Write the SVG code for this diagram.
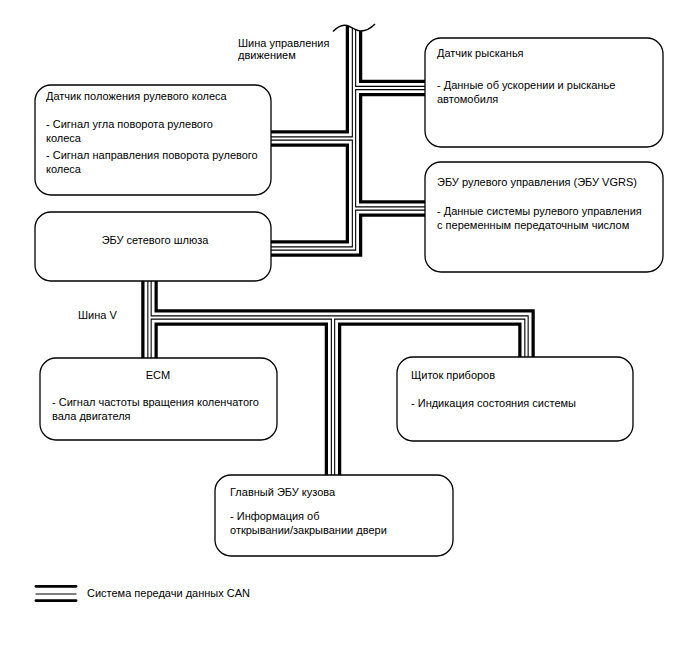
<svg xmlns="http://www.w3.org/2000/svg" xmlns:xlink="http://www.w3.org/1999/xlink" width="688" height="658" viewBox="0 0 688 658">
<style>
.box{fill:#fff;stroke:#000;stroke-width:1.3}
text{font-family:"Liberation Sans",Arial,sans-serif;font-size:11px;fill:#000}
.mid{text-anchor:middle}
</style>
<defs>
<g id="bus">
<path d="M354,20 V248.5 H271"/>
<path d="M354,138.5 H271"/>
<path d="M354,88 H426"/>
<path d="M354,208.5 H426"/>
<path d="M149.5,280 V359"/>
<path d="M149.5,317.5 H526.5 V358"/>
<path d="M333,317.5 V476"/>
</g>
</defs>
<rect width="688" height="658" fill="#fff"/>
<g id="connectors" fill="none" stroke-linejoin="miter">
<use xlink:href="#bus" stroke="#000" stroke-width="16.5"/>
<use xlink:href="#bus" stroke="#fff" stroke-width="10"/>
<use xlink:href="#bus" stroke="#000" stroke-width="4.4"/>
<use xlink:href="#bus" stroke="#fff" stroke-width="2.2"/>
<path d="M333,31.5 C338,26 343,24.5 347,25.5 C352,27 356,31 361,31 C366,31 371,28 375,24 L376,8 L332,8 Z" fill="#fff" stroke="none"/>
<path d="M333,31.5 C338,26 343,24.5 347,25.5 C352,27 356,31 361,31 C366,31 371,28 375,24" fill="none" stroke="#000" stroke-width="1.4"/>
</g>
<g id="n-steering-sensor">
<rect class="box" x="35" y="85" width="236" height="110" rx="16"/>
<text x="46" y="100">Датчик положения рулевого колеса</text>
<text x="46" y="128">- Сигнал угла поворота рулевого</text>
<text x="46" y="141.5">колеса</text>
<text x="46" y="159">- Сигнал направления поворота рулевого</text>
<text x="46" y="172.5">колеса</text>
</g>
<g id="n-yaw-sensor">
<rect class="box" x="425" y="38" width="238" height="109" rx="16"/>
<text x="437" y="57">Датчик рысканья</text>
<text x="437" y="89">- Данные об ускорении и рысканье</text>
<text x="437" y="102.5">автомобиля</text>
</g>
<g id="n-vgrs">
<rect class="box" x="425" y="162" width="238" height="110" rx="16"/>
<text x="437" y="185.5">ЭБУ рулевого управления (ЭБУ VGRS)</text>
<text x="437" y="215">- Данные системы рулевого управления</text>
<text x="437" y="228.5">с переменным передаточным числом</text>
</g>
<g id="n-gateway">
<rect class="box" x="35" y="212" width="236" height="69" rx="16"/>
<text class="mid" x="155" y="244">ЭБУ сетевого шлюза</text>
</g>
<g id="n-ecm">
<rect class="box" x="40" y="358" width="237" height="82" rx="16"/>
<text class="mid" x="158" y="379">ECM</text>
<text x="52" y="406">- Сигнал частоты вращения коленчатого</text>
<text x="52" y="420">вала двигателя</text>
</g>
<g id="n-meter">
<rect class="box" x="397" y="357" width="236" height="84" rx="16"/>
<text x="411" y="379">Щиток приборов</text>
<text x="411" y="407">- Индикация состояния системы</text>
</g>
<g id="n-body">
<rect class="box" x="215" y="475" width="238" height="81" rx="16"/>
<text x="230" y="496">Главный ЭБУ кузова</text>
<text x="230" y="520">- Информация об</text>
<text x="230" y="534">открывании/закрывании двери</text>
</g>
<g id="labels">
<text x="238" y="46.5">Шина управления</text>
<text x="238" y="59">движением</text>
<text x="78" y="319">Шина V</text>
</g>
<g id="legend">
<line x1="36" y1="586.3" x2="76" y2="586.3" stroke="#000" stroke-width="2.7" stroke-linecap="round"/>
<line x1="36" y1="594" x2="76" y2="594" stroke="#000" stroke-width="1.2" stroke-linecap="round"/>
<line x1="36" y1="600.7" x2="76" y2="600.7" stroke="#000" stroke-width="2.8" stroke-linecap="round"/>
<text x="87" y="597">Система передачи данных CAN</text>
</g>
</svg>
